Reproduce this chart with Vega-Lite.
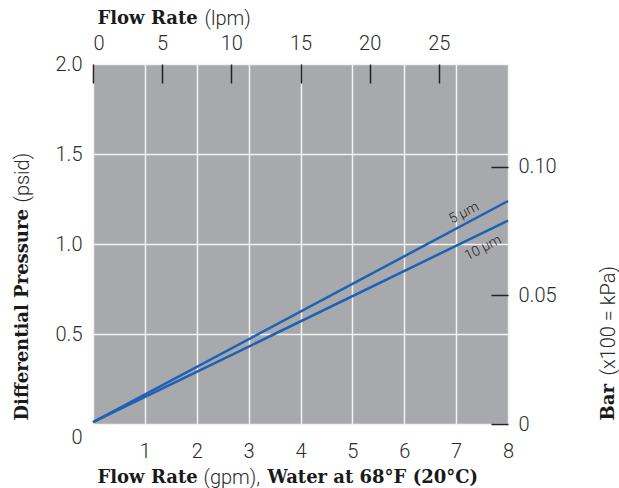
{
  "$schema": "https://vega.github.io/schema/vega-lite/v6.json",
  "width": 415,
  "height": 360,
  "autosize": {"type": "none"},
  "padding": {"left": 93, "top": 64, "right": 111, "bottom": 64},
  "background": "white",
  "config": {
    "view": {"fill": "#a8a9ac", "stroke": null},
    "axis": {
      "labelFont": "Roboto",
      "labelFontWeight": 300,
      "labelFontSize": 20,
      "labelColor": "#2b2b2b",
      "titleFont": "DejaVu Serif",
      "titleFontWeight": "bold",
      "titleFontSize": 18,
      "titleColor": "#1a1a1a",
      "domain": false
    }
  },
  "datasets": {
    "lines": [
      {"series": "5 µm", "gpm": 0, "psid": 0.01},
      {"series": "5 µm", "gpm": 8, "psid": 1.239},
      {"series": "10 µm", "gpm": 0, "psid": 0.01},
      {"series": "10 µm", "gpm": 8, "psid": 1.13}
    ],
    "labels": [
      {"label": "5 µm", "gpm": 7.15, "psid": 1.172},
      {"label": "10 µm", "gpm": 7.52, "psid": 0.978}
    ],
    "secondary": [
      {"lpm": 0, "bar": 0},
      {"lpm": 30, "bar": 0.14}
    ]
  },
  "layer": [
    {
      "encoding": {
        "x": {
          "field": "gpm",
          "type": "quantitative",
          "scale": {"domain": [0, 8], "nice": false, "zero": false},
          "axis": {
            "orient": "bottom",
            "values": [0, 1, 2, 3, 4, 5, 6, 7, 8],
            "labelExpr": "datum.value == 0 ? '' : datum.label",
            "labelFlush": false,
            "ticks": false,
            "labelPadding": 17,
            "grid": true,
            "gridColor": "#f2f2f2",
            "gridWidth": 1.5,
            "title": "Flow Rate",
            "titleAnchor": "start",
            "titleAlign": "left",
            "titleBaseline": "middle",
            "titleX": 4,
            "titleY": 53
          }
        },
        "y": {
          "field": "psid",
          "type": "quantitative",
          "scale": {"domain": [0, 2], "nice": false, "zero": false},
          "axis": {
            "orient": "left",
            "values": [0, 0.5, 1, 1.5, 2],
            "labelExpr": "datum.value == 0 ? '0' : format(datum.value, '.1f')",
            "labelOffset": {"condition": {"test": "datum.value == 0", "value": 13}, "value": 0},
            "ticks": false,
            "labelPadding": 11,
            "grid": true,
            "gridColor": "#f2f2f2",
            "gridWidth": 1.5,
            "title": "Differential Pressure",
            "titleAngle": 270,
            "titleAlign": "left",
            "titleBaseline": "middle",
            "titleX": -71,
            "titleY": 356
          }
        }
      },
      "layer": [
        {
          "data": {"name": "lines"},
          "mark": {"type": "line", "strokeWidth": 2.5, "color": "#1d62b4"},
          "encoding": {"detail": {"field": "series"}}
        },
        {
          "data": {"name": "labels"},
          "mark": {"type": "text", "angle": -27, "font": "Roboto", "fontWeight": 300, "fontSize": 14, "color": "#222222", "align": "center", "baseline": "middle"},
          "encoding": {"text": {"field": "label"}}
        }
      ]
    },
    {
      "data": {"name": "secondary"},
      "mark": {"type": "point", "opacity": 0},
      "encoding": {
        "x": {
          "field": "lpm",
          "type": "quantitative",
          "scale": {"domain": [0, 30], "nice": false, "zero": false},
          "axis": {
            "orient": "top",
            "values": [0, 5, 10, 15, 20, 25],
            "labelFlush": true,
            "tickSize": -19,
            "tickColor": "#222222",
            "tickWidth": 1.5,
            "labelPadding": 30,
            "grid": false,
            "title": "Flow Rate",
            "titleAnchor": "start",
            "titleAlign": "left",
            "titleBaseline": "middle",
            "titleX": 4,
            "titleY": -46
          }
        },
        "y": {
          "field": "bar",
          "type": "quantitative",
          "scale": {"domain": [0, 0.14], "nice": false, "zero": false},
          "axis": {
            "orient": "right",
            "values": [0, 0.05, 0.1],
            "labelExpr": "datum.value == 0 ? '0' : format(datum.value, '.2f')",
            "tickSize": -17,
            "tickColor": "#222222",
            "tickWidth": 1.5,
            "labelPadding": 27,
            "grid": false,
            "title": "Bar",
            "titleAngle": 270,
            "titleAlign": "left",
            "titleBaseline": "middle",
            "titleX": 100,
            "titleY": 356
          }
        }
      }
    },
    {
      "data": {"name": "secondary"},
      "mark": {"type": "point", "opacity": 0},
      "encoding": {
        "x": {
          "field": "lpm",
          "type": "quantitative",
          "axis": {
            "orient": "bottom",
            "labels": false,
            "ticks": false,
            "grid": false,
            "title": "(gpm),",
            "titleFont": "Roboto",
            "titleFontWeight": 300,
            "titleFontSize": 20,
            "titleColor": "#2b2b2b",
            "titleAlign": "left",
            "titleBaseline": "middle",
            "titleX": 110,
            "titleY": 53
          }
        },
        "y": {
          "field": "bar",
          "type": "quantitative",
          "axis": {
            "orient": "left",
            "labels": false,
            "ticks": false,
            "grid": false,
            "title": "(psid)",
            "titleFont": "Roboto",
            "titleFontWeight": 300,
            "titleFontSize": 20,
            "titleColor": "#2b2b2b",
            "titleAngle": 270,
            "titleAlign": "left",
            "titleBaseline": "middle",
            "titleX": -71,
            "titleY": 138
          }
        }
      }
    },
    {
      "data": {"name": "secondary"},
      "mark": {"type": "point", "opacity": 0},
      "encoding": {
        "x": {
          "field": "lpm",
          "type": "quantitative",
          "axis": {
            "orient": "bottom",
            "labels": false,
            "ticks": false,
            "grid": false,
            "title": "Water at 68°F (20°C)",
            "titleAlign": "left",
            "titleBaseline": "middle",
            "titleX": 174,
            "titleY": 53
          }
        },
        "y": {
          "field": "bar",
          "type": "quantitative",
          "axis": {
            "orient": "right",
            "labels": false,
            "ticks": false,
            "grid": false,
            "title": "(x100 = kPa)",
            "titleFont": "Roboto",
            "titleFontWeight": 300,
            "titleFontSize": 20,
            "titleColor": "#2b2b2b",
            "titleAngle": 270,
            "titleAlign": "left",
            "titleBaseline": "middle",
            "titleX": 100,
            "titleY": 311
          }
        }
      }
    },
    {
      "data": {"name": "secondary"},
      "mark": {"type": "point", "opacity": 0},
      "encoding": {
        "x": {
          "field": "lpm",
          "type": "quantitative",
          "axis": {
            "orient": "top",
            "labels": false,
            "ticks": false,
            "grid": false,
            "title": "(lpm)",
            "titleFont": "Roboto",
            "titleFontWeight": 300,
            "titleFontSize": 20,
            "titleColor": "#2b2b2b",
            "titleAlign": "left",
            "titleBaseline": "middle",
            "titleX": 111,
            "titleY": -46
          }
        },
        "y": {
          "field": "bar",
          "type": "quantitative",
          "axis": null
        }
      }
    }
  ],
  "resolve": {
    "scale": {"x": "independent", "y": "independent"},
    "axis": {"x": "independent", "y": "independent"}
  }
}
